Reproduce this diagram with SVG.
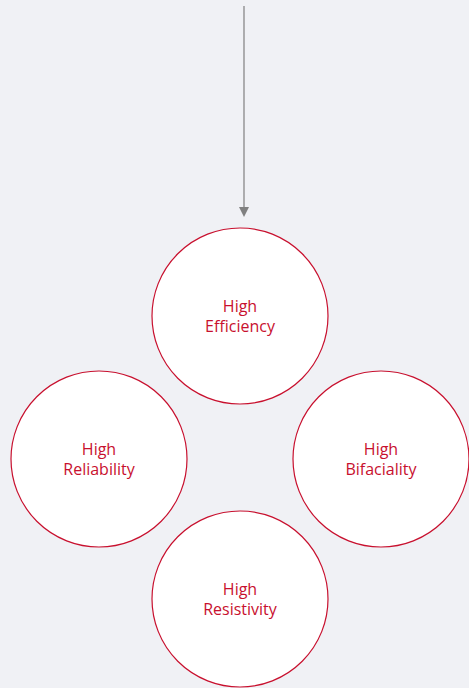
<svg xmlns="http://www.w3.org/2000/svg" width="469" height="688" viewBox="0 0 469 688">
<style>
.bg{fill:#f0f1f5}
.c{fill:#ffffff;stroke:#c8102e;stroke-width:1.2}
.t{font-family:"Open Sans","Noto Sans","Liberation Sans",sans-serif;font-size:16px;font-weight:500;fill:#c8102e;text-anchor:middle}
.ln{stroke:#888888;stroke-width:1.3;fill:none}
</style>
<rect class="bg" x="0" y="0" width="469" height="688"/>
<g id="connectors">
<line class="ln" x1="244" y1="6" x2="244" y2="208"/>
<path d="M239,207 L249,207 L244,217 Z" fill="#808080"/>
</g>
<g id="efficiency">
<circle class="c" cx="240" cy="316" r="88"/>
<text class="t" x="240" y="312">High</text>
<text class="t" x="240" y="332">Efficiency</text>
</g>
<g id="reliability">
<circle class="c" cx="99" cy="459" r="88"/>
<text class="t" x="99" y="455">High</text>
<text class="t" x="99" y="475">Reliability</text>
</g>
<g id="bifaciality">
<circle class="c" cx="381" cy="459" r="88"/>
<text class="t" x="381" y="455">High</text>
<text class="t" x="381" y="475">Bifaciality</text>
</g>
<g id="resistivity">
<circle class="c" cx="240" cy="599" r="88"/>
<text class="t" x="240" y="595">High</text>
<text class="t" x="240" y="615">Resistivity</text>
</g>
</svg>
